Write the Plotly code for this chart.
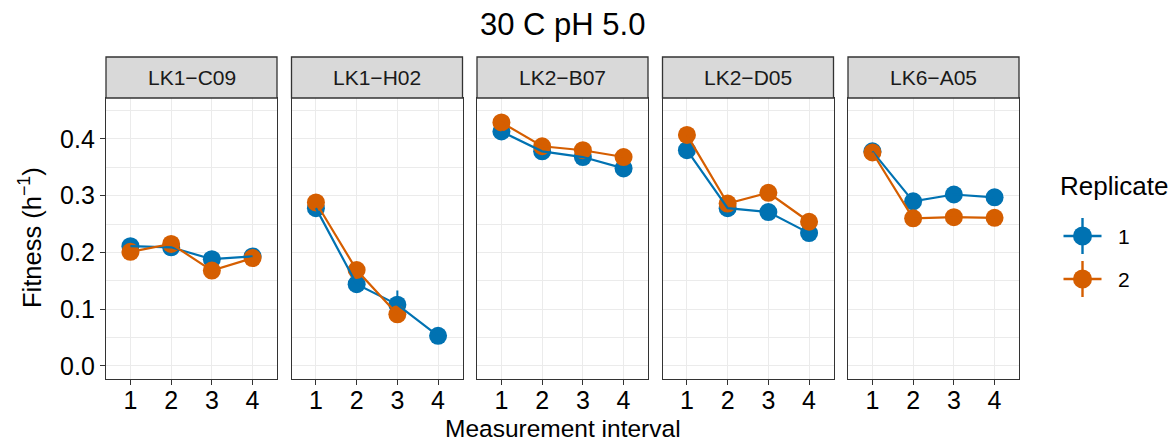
import plotly.graph_objects as go

# ---------------- data ----------------
intervals = [1, 2, 3, 4]
strains = ["LK1\u2212C09", "LK1\u2212H02", "LK2\u2212B07", "LK2\u2212D05", "LK6\u2212A05"]
replicates = ["1", "2"]

lk1_c09_r1 = [0.211, 0.209, 0.188, 0.193]
lk1_c09_r2 = [0.201, 0.215, 0.168, 0.190]
lk1_h02_r1 = [0.278, 0.144, 0.108, 0.053]
lk1_h02_r2 = [0.288, 0.169, 0.091, None]
lk2_b07_r1 = [0.413, 0.378, 0.368, 0.348]
lk2_b07_r2 = [0.429, 0.387, 0.380, 0.368]
lk2_d05_r1 = [0.380, 0.278, 0.271, 0.234]
lk2_d05_r2 = [0.407, 0.286, 0.305, 0.254]
lk6_a05_r1 = [0.378, 0.290, 0.302, 0.297]
lk6_a05_r2 = [0.376, 0.260, 0.262, 0.261]

lk1_c09_e1 = [0.004, 0.004, 0.004, 0.004]
lk1_c09_e2 = [0.004, 0.004, 0.004, 0.004]
lk1_h02_e1 = [0.004, 0.004, 0.025, 0.004]
lk1_h02_e2 = [0.004, 0.004, 0.004, None]
lk2_b07_e1 = [0.004, 0.004, 0.004, 0.004]
lk2_b07_e2 = [0.004, 0.004, 0.004, 0.004]
lk2_d05_e1 = [0.004, 0.004, 0.004, 0.004]
lk2_d05_e2 = [0.004, 0.004, 0.004, 0.004]
lk6_a05_e1 = [0.004, 0.004, 0.004, 0.004]
lk6_a05_e2 = [0.004, 0.004, 0.004, 0.004]

rep1_series = [lk1_c09_r1, lk1_h02_r1, lk2_b07_r1, lk2_d05_r1, lk6_a05_r1]
rep2_series = [lk1_c09_r2, lk1_h02_r2, lk2_b07_r2, lk2_d05_r2, lk6_a05_r2]
rep1_err = [lk1_c09_e1, lk1_h02_e1, lk2_b07_e1, lk2_d05_e1, lk6_a05_e1]
rep2_err = [lk1_c09_e2, lk1_h02_e2, lk2_b07_e2, lk2_d05_e2, lk6_a05_e2]

y_ticks = [0.0, 0.1, 0.2, 0.3, 0.4]
y_tick_labels = ["0.0", "0.1", "0.2", "0.3", "0.4"]
y_minor = [0.05, 0.15, 0.25, 0.35, 0.45]

# ---------------- style ----------------
W, H = 1172, 444
colors = ["#0072B2", "#D55E00"]
FONT = "Liberation Sans, Arial, Helvetica, sans-serif"
DARK = "#333333"
GRID = "#EBEBEB"

panel_left = [106, 291.5, 477, 662.5, 848]
panel_w = 171
panel_top, panel_bottom = 98, 379
strip_top = 57

def px(x):
    return x / W

def py(y):
    return 1 - y / H

fig = go.Figure()

for i in range(len(strains)):
    ax = "" if i == 0 else str(i + 1)
    xa, ya = "x" + ax, "y" + ax
    # points with error bars
    for r, (series, errs) in enumerate([(rep1_series[i], rep1_err[i]), (rep2_series[i], rep2_err[i])]):
        fig.add_trace(go.Scatter(
            x=intervals, y=series, mode="markers",
            marker=dict(color=colors[r], size=18, line=dict(width=0)),
            error_y=dict(type="data", array=errs, visible=True, color=colors[r], thickness=2, width=0),
            xaxis=xa, yaxis=ya, showlegend=False, hoverinfo="skip"))
    # lines on top
    for r, series in enumerate([rep1_series[i], rep2_series[i]]):
        fig.add_trace(go.Scatter(
            x=intervals, y=series, mode="lines",
            line=dict(color=colors[r], width=2.2),
            connectgaps=False,
            xaxis=xa, yaxis=ya, showlegend=False, hoverinfo="skip"))

layout = dict(
    width=W, height=H,
    margin=dict(l=0, r=0, t=0, b=0),
    paper_bgcolor="white", plot_bgcolor="white",
    font=dict(family=FONT, color="black"),
    showlegend=False,
)

TICK = 25
for i in range(len(strains)):
    ax = "" if i == 0 else str(i + 1)
    layout["xaxis" + ax] = dict(
        domain=[px(panel_left[i]), px(panel_left[i] + panel_w)],
        anchor="y" + ax,
        range=[0.4, 4.6],
        tickvals=intervals, ticktext=[str(v) for v in intervals],
        showgrid=True, gridcolor=GRID, gridwidth=1.3,
        ticks="outside", ticklen=5, tickcolor=DARK, tickwidth=1.3,
        tickfont=dict(size=TICK, color="black", family=FONT),
        ticklabelstandoff=-6,
        showline=True, mirror=True, linecolor=DARK, linewidth=1.3,
        zeroline=False, fixedrange=True,
    )
    layout["yaxis" + ax] = dict(
        domain=[py(panel_bottom), py(panel_top)],
        anchor="x" + ax,
        range=[-0.023, 0.472],
        tickvals=y_ticks, ticktext=y_tick_labels,
        showgrid=True, gridcolor=GRID, gridwidth=1.3,
        minor=dict(tickvals=y_minor, showgrid=True, gridcolor=GRID, gridwidth=0.7, ticks=""),
        ticks="outside" if i == 0 else "", ticklen=5, tickcolor=DARK, tickwidth=1.3,
        showticklabels=(i == 0),
        tickfont=dict(size=TICK, color="black", family=FONT),
        showline=True, mirror=True, linecolor=DARK, linewidth=1.3,
        zeroline=False, fixedrange=True,
    )

shapes = []
annotations = []
for i, name in enumerate(strains):
    x0, x1 = panel_left[i], panel_left[i] + panel_w
    shapes.append(dict(type="rect", xref="paper", yref="paper",
                       x0=px(x0), x1=px(x1), y0=py(panel_top), y1=py(strip_top),
                       fillcolor="#D9D9D9", line=dict(color=DARK, width=1.3), layer="above"))
    annotations.append(dict(text=name, xref="paper", yref="paper",
                            x=px((x0 + x1) / 2), y=py((strip_top + panel_top) / 2),
                            xanchor="center", yanchor="middle", showarrow=False,
                            font=dict(size=21, color="#1A1A1A", family=FONT)))

# titles
annotations.append(dict(text="30 C pH 5.0", xref="paper", yref="paper",
                        x=px(562), y=py(25), xanchor="center", yanchor="middle",
                        showarrow=False, font=dict(size=31, color="black", family=FONT)))
annotations.append(dict(text="Measurement interval", xref="paper", yref="paper",
                        x=px(563), y=0, xanchor="center", yanchor="bottom",
                        showarrow=False, font=dict(size=24.5, color="black", family=FONT)))
annotations.append(dict(text="Fitness (h<sup>\u22121</sup>)", xref="paper", yref="paper",
                        x=px(30), y=py(238), xanchor="center", yanchor="middle",
                        textangle=-90, showarrow=False,
                        font=dict(size=25.5, color="black", family=FONT)))

# custom legend (pointrange glyph)
annotations.append(dict(text="Replicate", xref="paper", yref="paper",
                        x=px(1058), y=py(186), xanchor="left", yanchor="middle",
                        showarrow=False, font=dict(size=26, color="black", family=FONT)))
legend_y = [236, 279]
for r, rep in enumerate(replicates):
    cx, cy = px(1082.5), py(legend_y[r])
    common = dict(xref="paper", yref="paper", xsizemode="pixel", ysizemode="pixel",
                  xanchor=cx, yanchor=cy, layer="above")
    shapes.append(dict(type="line", x0=-19, x1=19, y0=0, y1=0,
                       line=dict(color=colors[r], width=2.4), **common))
    shapes.append(dict(type="line", x0=0, x1=0, y0=-18, y1=18,
                       line=dict(color=colors[r], width=2.4), **common))
    shapes.append(dict(type="circle", x0=-9.5, x1=9.5, y0=-9.5, y1=9.5,
                       fillcolor=colors[r], line=dict(width=0), **common))
    annotations.append(dict(text=rep, xref="paper", yref="paper",
                            x=px(1116), y=cy, xanchor="left", yanchor="middle",
                            showarrow=False, font=dict(size=21, color="black", family=FONT)))

layout["shapes"] = shapes
layout["annotations"] = annotations
fig.update_layout(**layout)

fig.write_html("out.html")
